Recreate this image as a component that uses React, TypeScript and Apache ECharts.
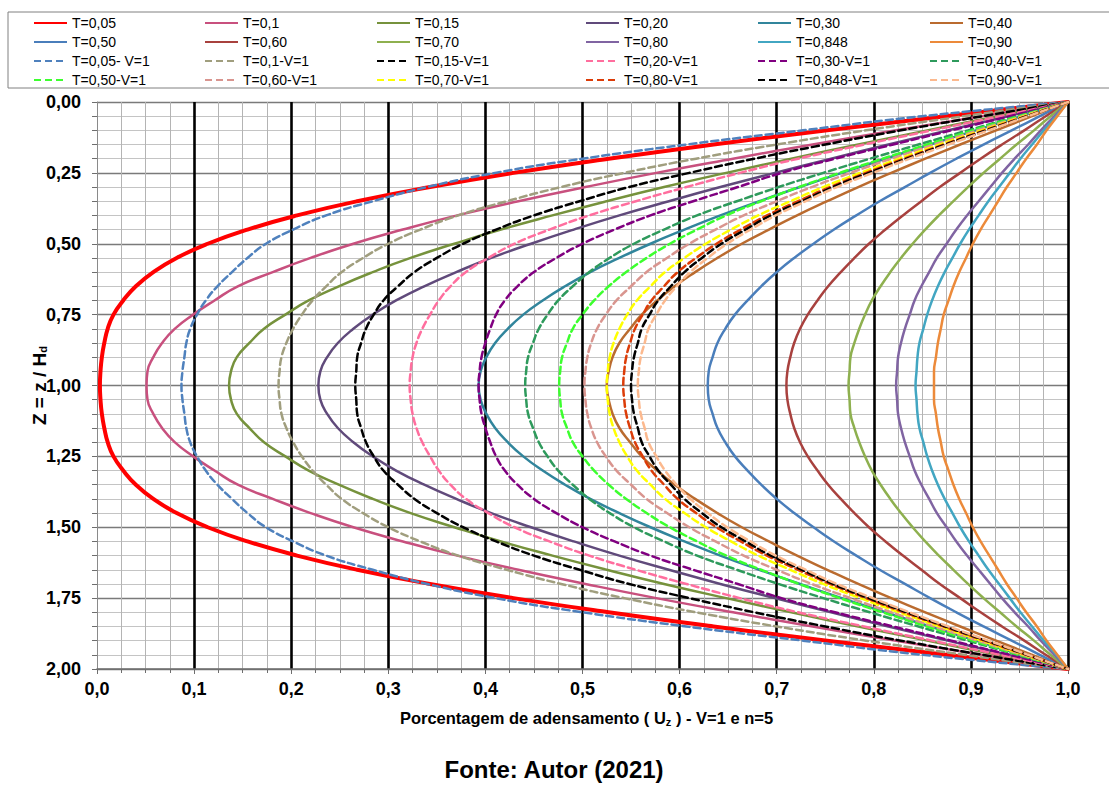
import React, { useEffect, useRef } from "react";
import * as echarts from "echarts";

const FONT = "'Liberation Sans', Arial, sans-serif";

// Depth levels Z = z / Hd shared by every curve
const Z_LEVELS = [0, 0.05, 0.1, 0.15, 0.2, 0.25, 0.3, 0.35, 0.4, 0.45, 0.5, 0.55, 0.6, 0.65, 0.7, 0.75, 0.8, 0.85, 0.9, 0.95, 1, 1.05, 1.1, 1.15, 1.2, 1.25, 1.3, 1.35, 1.4, 1.45, 1.5, 1.55, 1.6, 1.65, 1.7, 1.75, 1.8, 1.85, 1.9, 1.95, 2];

// Uz values at each Z level
const T005 = [1, 0.874, 0.752, 0.635, 0.527, 0.429, 0.343, 0.268, 0.206, 0.155, 0.114, 0.082, 0.058, 0.04, 0.027, 0.017, 0.011, 0.0075, 0.005, 0.0036, 0.003, 0.0036, 0.005, 0.0075, 0.011, 0.017, 0.027, 0.04, 0.058, 0.082, 0.114, 0.155, 0.206, 0.268, 0.343, 0.429, 0.527, 0.635, 0.752, 0.874, 1];
const T010 = [1, 0.911, 0.823, 0.737, 0.655, 0.576, 0.503, 0.434, 0.371, 0.315, 0.264, 0.22, 0.181, 0.145, 0.121, 0.099, 0.08, 0.067, 0.058, 0.052, 0.051, 0.052, 0.058, 0.067, 0.08, 0.099, 0.121, 0.145, 0.181, 0.22, 0.264, 0.315, 0.371, 0.434, 0.503, 0.576, 0.655, 0.737, 0.823, 0.911, 1];
const T015 = [1, 0.927, 0.855, 0.784, 0.715, 0.648, 0.584, 0.525, 0.469, 0.416, 0.368, 0.323, 0.284, 0.249, 0.218, 0.194, 0.172, 0.157, 0.144, 0.138, 0.136, 0.138, 0.144, 0.157, 0.172, 0.194, 0.218, 0.249, 0.284, 0.323, 0.368, 0.416, 0.469, 0.525, 0.584, 0.648, 0.715, 0.784, 0.855, 0.927, 1];
const T020 = [1, 0.938, 0.876, 0.815, 0.756, 0.698, 0.642, 0.589, 0.538, 0.491, 0.447, 0.406, 0.37, 0.337, 0.308, 0.284, 0.264, 0.248, 0.237, 0.23, 0.228, 0.23, 0.237, 0.248, 0.264, 0.284, 0.308, 0.337, 0.37, 0.406, 0.447, 0.491, 0.538, 0.589, 0.642, 0.698, 0.756, 0.815, 0.876, 0.938, 1];
const T030 = [1, 0.952, 0.905, 0.858, 0.812, 0.767, 0.724, 0.682, 0.642, 0.605, 0.57, 0.538, 0.508, 0.482, 0.459, 0.439, 0.423, 0.41, 0.401, 0.395, 0.393, 0.395, 0.401, 0.41, 0.423, 0.439, 0.459, 0.482, 0.508, 0.538, 0.57, 0.605, 0.642, 0.682, 0.724, 0.767, 0.812, 0.858, 0.905, 0.952, 1];
const T040 = [1, 0.963, 0.926, 0.889, 0.853, 0.818, 0.784, 0.752, 0.721, 0.692, 0.664, 0.639, 0.616, 0.595, 0.577, 0.561, 0.549, 0.538, 0.531, 0.527, 0.525, 0.527, 0.531, 0.538, 0.549, 0.561, 0.577, 0.595, 0.616, 0.639, 0.664, 0.692, 0.721, 0.752, 0.784, 0.818, 0.853, 0.889, 0.926, 0.963, 1];
const T050 = [1, 0.971, 0.942, 0.913, 0.885, 0.858, 0.832, 0.806, 0.782, 0.759, 0.738, 0.718, 0.7, 0.684, 0.67, 0.657, 0.647, 0.639, 0.634, 0.63, 0.629, 0.63, 0.634, 0.639, 0.647, 0.657, 0.67, 0.684, 0.7, 0.718, 0.738, 0.759, 0.782, 0.806, 0.832, 0.858, 0.885, 0.913, 0.942, 0.971, 1];
const T060 = [1, 0.977, 0.955, 0.932, 0.91, 0.889, 0.868, 0.849, 0.83, 0.812, 0.795, 0.78, 0.766, 0.753, 0.742, 0.732, 0.724, 0.718, 0.714, 0.711, 0.71, 0.711, 0.714, 0.718, 0.724, 0.732, 0.742, 0.753, 0.766, 0.78, 0.795, 0.812, 0.83, 0.849, 0.868, 0.889, 0.91, 0.932, 0.955, 0.977, 1];
const T070 = [1, 0.982, 0.965, 0.947, 0.93, 0.913, 0.897, 0.882, 0.867, 0.853, 0.84, 0.828, 0.817, 0.807, 0.798, 0.791, 0.785, 0.78, 0.776, 0.775, 0.774, 0.775, 0.776, 0.78, 0.785, 0.791, 0.798, 0.807, 0.817, 0.828, 0.84, 0.853, 0.867, 0.882, 0.897, 0.913, 0.93, 0.947, 0.965, 0.982, 1];
const T080 = [1, 0.986, 0.972, 0.959, 0.945, 0.932, 0.92, 0.908, 0.896, 0.885, 0.875, 0.865, 0.857, 0.849, 0.842, 0.837, 0.832, 0.828, 0.825, 0.824, 0.823, 0.824, 0.825, 0.828, 0.832, 0.837, 0.842, 0.849, 0.857, 0.865, 0.875, 0.885, 0.896, 0.908, 0.92, 0.932, 0.945, 0.959, 0.972, 0.986, 1];
const T0848 = [1, 0.988, 0.975, 0.963, 0.951, 0.94, 0.929, 0.918, 0.908, 0.898, 0.889, 0.881, 0.873, 0.866, 0.86, 0.855, 0.851, 0.847, 0.845, 0.844, 0.843, 0.844, 0.845, 0.847, 0.851, 0.855, 0.86, 0.866, 0.873, 0.881, 0.889, 0.898, 0.908, 0.918, 0.929, 0.94, 0.951, 0.963, 0.975, 0.988, 1];
const T090 = [1, 0.989, 0.978, 0.968, 0.957, 0.947, 0.937, 0.928, 0.919, 0.91, 0.902, 0.895, 0.888, 0.882, 0.877, 0.872, 0.869, 0.866, 0.864, 0.862, 0.862, 0.862, 0.864, 0.866, 0.869, 0.872, 0.877, 0.882, 0.888, 0.895, 0.902, 0.91, 0.919, 0.928, 0.937, 0.947, 0.957, 0.968, 0.978, 0.989, 1];

const V005 = [1, 0.85, 0.727, 0.607, 0.5, 0.41, 0.34, 0.284, 0.236, 0.202, 0.174, 0.155, 0.139, 0.124, 0.112, 0.103, 0.096, 0.092, 0.09, 0.088, 0.087, 0.088, 0.09, 0.092, 0.096, 0.103, 0.112, 0.124, 0.139, 0.155, 0.174, 0.202, 0.236, 0.284, 0.34, 0.41, 0.5, 0.607, 0.727, 0.85, 1];
const V010 = [1, 0.893, 0.792, 0.7, 0.617, 0.543, 0.478, 0.422, 0.372, 0.333, 0.3, 0.274, 0.252, 0.236, 0.222, 0.211, 0.202, 0.195, 0.19, 0.188, 0.187, 0.188, 0.19, 0.195, 0.202, 0.211, 0.222, 0.236, 0.252, 0.274, 0.3, 0.333, 0.372, 0.422, 0.478, 0.543, 0.617, 0.7, 0.792, 0.893, 1];
const V015 = [1, 0.912, 0.828, 0.75, 0.677, 0.61, 0.548, 0.497, 0.45, 0.411, 0.377, 0.35, 0.327, 0.31, 0.295, 0.285, 0.277, 0.272, 0.268, 0.267, 0.266, 0.267, 0.268, 0.272, 0.277, 0.285, 0.295, 0.31, 0.327, 0.35, 0.377, 0.411, 0.45, 0.497, 0.548, 0.61, 0.677, 0.75, 0.828, 0.912, 1];
const V020 = [1, 0.93, 0.86, 0.79, 0.722, 0.662, 0.607, 0.555, 0.507, 0.466, 0.43, 0.403, 0.38, 0.364, 0.352, 0.343, 0.335, 0.329, 0.325, 0.323, 0.322, 0.323, 0.325, 0.329, 0.335, 0.343, 0.352, 0.364, 0.38, 0.403, 0.43, 0.466, 0.507, 0.555, 0.607, 0.662, 0.722, 0.79, 0.86, 0.93, 1];
const V030 = [1, 0.94, 0.88, 0.82, 0.76, 0.705, 0.66, 0.614, 0.57, 0.533, 0.5, 0.473, 0.45, 0.433, 0.42, 0.411, 0.405, 0.4, 0.396, 0.394, 0.393, 0.394, 0.396, 0.4, 0.405, 0.411, 0.42, 0.433, 0.45, 0.473, 0.5, 0.533, 0.57, 0.614, 0.66, 0.705, 0.76, 0.82, 0.88, 0.94, 1];
const V040 = [1, 0.948, 0.897, 0.846, 0.796, 0.748, 0.702, 0.659, 0.618, 0.584, 0.553, 0.528, 0.507, 0.49, 0.475, 0.464, 0.455, 0.449, 0.444, 0.442, 0.441, 0.442, 0.444, 0.449, 0.455, 0.464, 0.475, 0.49, 0.507, 0.528, 0.553, 0.584, 0.618, 0.659, 0.702, 0.748, 0.796, 0.846, 0.897, 0.948, 1];
const V050 = [1, 0.95, 0.902, 0.855, 0.809, 0.765, 0.723, 0.684, 0.648, 0.618, 0.59, 0.566, 0.545, 0.527, 0.512, 0.5, 0.49, 0.484, 0.479, 0.477, 0.476, 0.477, 0.479, 0.484, 0.49, 0.5, 0.512, 0.527, 0.545, 0.566, 0.59, 0.618, 0.648, 0.684, 0.723, 0.765, 0.809, 0.855, 0.902, 0.95, 1];
const V060 = [1, 0.953, 0.907, 0.862, 0.818, 0.776, 0.736, 0.7, 0.666, 0.637, 0.61, 0.587, 0.566, 0.55, 0.535, 0.524, 0.515, 0.509, 0.505, 0.503, 0.502, 0.503, 0.505, 0.509, 0.515, 0.524, 0.535, 0.55, 0.566, 0.587, 0.61, 0.637, 0.666, 0.7, 0.736, 0.776, 0.818, 0.862, 0.907, 0.953, 1];
const V070 = [1, 0.955, 0.911, 0.868, 0.826, 0.786, 0.748, 0.714, 0.681, 0.653, 0.627, 0.605, 0.585, 0.57, 0.556, 0.546, 0.538, 0.532, 0.528, 0.526, 0.525, 0.526, 0.528, 0.532, 0.538, 0.546, 0.556, 0.57, 0.585, 0.605, 0.627, 0.653, 0.681, 0.714, 0.748, 0.786, 0.826, 0.868, 0.911, 0.955, 1];
const V080 = [1, 0.957, 0.914, 0.872, 0.831, 0.792, 0.755, 0.722, 0.69, 0.663, 0.638, 0.617, 0.598, 0.584, 0.571, 0.562, 0.554, 0.549, 0.545, 0.543, 0.542, 0.543, 0.545, 0.549, 0.554, 0.562, 0.571, 0.584, 0.598, 0.617, 0.638, 0.663, 0.69, 0.722, 0.755, 0.792, 0.831, 0.872, 0.914, 0.957, 1];
const V0848 = [1, 0.958, 0.916, 0.874, 0.834, 0.795, 0.758, 0.726, 0.694, 0.668, 0.643, 0.623, 0.605, 0.591, 0.578, 0.569, 0.561, 0.557, 0.553, 0.551, 0.55, 0.551, 0.553, 0.557, 0.561, 0.569, 0.578, 0.591, 0.605, 0.623, 0.643, 0.668, 0.694, 0.726, 0.758, 0.795, 0.834, 0.874, 0.916, 0.958, 1];
const V090 = [1, 0.959, 0.918, 0.877, 0.837, 0.799, 0.762, 0.73, 0.699, 0.673, 0.649, 0.629, 0.611, 0.597, 0.585, 0.576, 0.568, 0.564, 0.56, 0.558, 0.557, 0.558, 0.56, 0.564, 0.568, 0.576, 0.585, 0.597, 0.611, 0.629, 0.649, 0.673, 0.699, 0.73, 0.762, 0.799, 0.837, 0.877, 0.918, 0.959, 1];

const X_TICKS = [0, 0.1, 0.2, 0.3, 0.4, 0.5, 0.6, 0.7, 0.8, 0.9, 1];
const Y_TICKS = [0, 0.25, 0.5, 0.75, 1, 1.25, 1.5, 1.75, 2];

type Curve = { name: string; values: number[]; color: string; dashed: boolean; width: number };

const CURVES: Curve[] = [
  { name: "T=0,05", values: T005, color: "#FF0000", dashed: false, width: 4 },
  { name: "T=0,1", values: T010, color: "#C8507E", dashed: false, width: 2.5 },
  { name: "T=0,15", values: T015, color: "#76923C", dashed: false, width: 2.5 },
  { name: "T=0,20", values: T020, color: "#604A7B", dashed: false, width: 2.5 },
  { name: "T=0,30", values: T030, color: "#31859C", dashed: false, width: 2.5 },
  { name: "T=0,40", values: T040, color: "#BA6B2F", dashed: false, width: 2.5 },
  { name: "T=0,50", values: T050, color: "#4A7EBB", dashed: false, width: 2.5 },
  { name: "T=0,60", values: T060, color: "#A8413E", dashed: false, width: 2.5 },
  { name: "T=0,70", values: T070, color: "#8EB04F", dashed: false, width: 2.5 },
  { name: "T=0,80", values: T080, color: "#8064A2", dashed: false, width: 2.5 },
  { name: "T=0,848", values: T0848, color: "#42A6C2", dashed: false, width: 2.5 },
  { name: "T=0,90", values: T090, color: "#EC8A3A", dashed: false, width: 2.5 },
  { name: "T=0,05- V=1", values: V005, color: "#4F81BD", dashed: true, width: 2.5 },
  { name: "T=0,1-V=1", values: V010, color: "#A09E7E", dashed: true, width: 2.5 },
  { name: "T=0,15-V=1", values: V015, color: "#000000", dashed: true, width: 2.5 },
  { name: "T=0,20-V=1", values: V020, color: "#FF6E9E", dashed: true, width: 2.5 },
  { name: "T=0,30-V=1", values: V030, color: "#800080", dashed: true, width: 2.5 },
  { name: "T=0,40-V=1", values: V040, color: "#2E9A5C", dashed: true, width: 2.5 },
  { name: "T=0,50-V=1", values: V050, color: "#3CFF2E", dashed: true, width: 2.5 },
  { name: "T=0,60-V=1", values: V060, color: "#D9958F", dashed: true, width: 2.5 },
  { name: "T=0,70-V=1", values: V070, color: "#FFFF00", dashed: true, width: 2.5 },
  { name: "T=0,80-V=1", values: V080, color: "#DC3C08", dashed: true, width: 2.5 },
  { name: "T=0,848-V=1", values: V0848, color: "#000000", dashed: true, width: 2.5 },
  { name: "T=0,90-V=1", values: V090, color: "#FCB98E", dashed: true, width: 2.5 },
];

const LEGEND_COLUMNS = [
  ["T=0,05", "T=0,50", "T=0,05- V=1", "T=0,50-V=1"],
  ["T=0,1", "T=0,60", "T=0,1-V=1", "T=0,60-V=1"],
  ["T=0,15", "T=0,70", "T=0,15-V=1", "T=0,70-V=1"],
  ["T=0,20", "T=0,80", "T=0,20-V=1", "T=0,80-V=1"],
  ["T=0,30", "T=0,848", "T=0,30-V=1", "T=0,848-V=1"],
  ["T=0,40", "T=0,90", "T=0,40-V=1", "T=0,90-V=1"],
];
const LEGEND_X = [33, 204, 376, 585, 757, 929];

const fmt1 = (v: number) => v.toFixed(1).replace(".", ",");
const fmt2 = (v: number) => v.toFixed(2).replace(".", ",");

export default function App() {
  const ref = useRef<HTMLDivElement>(null);

  useEffect(() => {
    if (!ref.current) return;
    const chart = echarts.init(ref.current, undefined, { renderer: "svg" });

    const series = CURVES.map((c) => ({
      name: c.name,
      type: "line",
      data: Z_LEVELS.map((z, i) => [c.values[i], z]),
      smooth: 0.5,
      symbol: "none",
      showSymbol: false,
      silent: true,
      lineStyle: { color: c.color, width: c.width, type: c.dashed ? [7, 4] : "solid", join: "round", cap: "round" },
      itemStyle: { color: c.color },
      emphasis: { disabled: true },
    }));

    const legends = LEGEND_COLUMNS.map((names, i) => ({
      orient: "vertical",
      left: LEGEND_X[i],
      top: 16,
      padding: 0,
      itemWidth: 33,
      itemHeight: 14,
      itemGap: 5,
      selectedMode: false,
      z: 20,
      data: names,
      itemStyle: { opacity: 0, borderWidth: 0 },
      lineStyle: { cap: "butt" },
      textStyle: { fontFamily: FONT, fontSize: 14, color: "#000", lineHeight: 14 },
    }));

    const subRich = { sub: { fontFamily: FONT, fontWeight: "bold", fontSize: 11, padding: [7, 0, 0, 0] } };

    const option: any = {
      animation: false,
      backgroundColor: "#ffffff",
      grid: { left: 97, top: 102, width: 971, height: 567, containLabel: false },
      legend: legends,
      xAxis: {
        type: "value",
        min: X_TICKS[0],
        max: X_TICKS[X_TICKS.length - 1],
        interval: 0.1,
        position: "bottom",
        name: "Porcentagem de adensamento ( U{sub|z} ) - V=1 e n=5",
        nameLocation: "middle",
        nameGap: 40,
        nameMoveOverlap: false,
        nameTextStyle: {
          fontFamily: FONT,
          fontWeight: "bold",
          fontSize: 16.5,
          color: "#000",
          padding: [0, 0, 0, 8],
          rich: subRich,
        },
        axisLine: { onZero: false, lineStyle: { color: "#6e6e6e", width: 1.5 } },
        axisTick: { show: true, length: 5, lineStyle: { color: "#6e6e6e", width: 1 } },
        minorTick: { show: true, splitNumber: 4, length: 4, lineStyle: { color: "#6e6e6e", width: 1 } },
        axisLabel: { formatter: fmt1, fontFamily: FONT, fontWeight: "bold", fontSize: 18, color: "#000", margin: 11 },
        splitLine: { show: true, showMinLine: false, lineStyle: { color: "#000", width: 2.6 } },
        minorSplitLine: { show: true, lineStyle: { color: "#b4b4b4", width: 1 } },
      },
      yAxis: {
        type: "value",
        inverse: true,
        min: Y_TICKS[0],
        max: Y_TICKS[Y_TICKS.length - 1],
        interval: 0.25,
        name: "Z = z / H{sub|d}",
        nameLocation: "middle",
        nameGap: 48,
        nameMoveOverlap: false,
        nameRotate: 90,
        nameTextStyle: { fontFamily: FONT, fontWeight: "bold", fontSize: 19, color: "#000", rich: subRich },
        axisLine: { show: true, lineStyle: { color: "#8a8a8a", width: 1 } },
        axisTick: { show: true, length: 5, lineStyle: { color: "#6e6e6e", width: 1 } },
        minorTick: { show: true, splitNumber: 5, length: 5, lineStyle: { color: "#6e6e6e", width: 1 } },
        axisLabel: { formatter: fmt2, fontFamily: FONT, fontWeight: "bold", fontSize: 18, color: "#000", margin: 16 },
        splitLine: { show: true, lineStyle: { color: "#7a7a7a", width: 1.3 } },
        minorSplitLine: { show: true, lineStyle: { color: "#c4c4c4", width: 1.2 } },
      },
      graphic: [
        {
          type: "rect",
          z: 10,
          shape: { x: 8, y: 12, width: 1120, height: 76 },
          style: { fill: "#ffffff", stroke: "#808080", lineWidth: 1 },
        },
        {
          type: "text",
          z: 10,
          left: "center",
          top: 757,
          style: { text: "Fonte: Autor (2021)", font: `bold 24px ${FONT}`, fill: "#000" },
        },
      ],
      series,
    };

    chart.setOption(option);
    return () => chart.dispose();
  }, []);

  return (
    <div ref={ref} style={{ position: "fixed", left: 0, top: 0, width: 1109, height: 787, background: "#fff" }} />
  );
}
